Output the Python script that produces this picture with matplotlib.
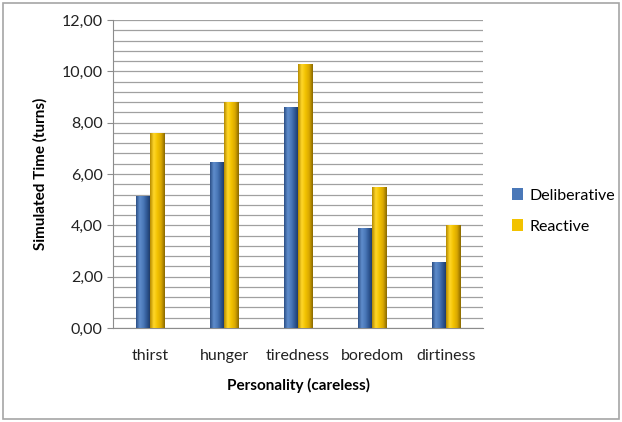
import matplotlib
matplotlib.use("Agg")
import matplotlib.pyplot as plt
import numpy as np
from matplotlib.colors import LinearSegmentedColormap
from matplotlib.patches import Rectangle
from matplotlib.ticker import MultipleLocator, FuncFormatter

plt.rcParams['font.family'] = ['Lato', 'DejaVu Sans']

# Simulated time per need
categories = ["thirst", "hunger", "tiredness", "boredom", "dirtiness"]
deliberative = [5.15, 6.48, 8.60, 3.88, 2.56]
reactive = [7.61, 8.79, 10.27, 5.50, 4.01]

blue_cmap = LinearSegmentedColormap.from_list(
    "blue_cyl", ["#2c4f86", "#5f8dcc", "#4a78b8", "#2d5591", "#1c355e"])
gold_cmap = LinearSegmentedColormap.from_list(
    "gold_cyl", ["#b58a00", "#ffd72a", "#f2c200", "#d9a800", "#8a6a00"])

fig = plt.figure(figsize=(6.22, 4.22), dpi=100)
fig.patches.append(Rectangle((0.005, 0.008), 0.99, 0.985, transform=fig.transFigure,
                             fill=False, edgecolor="#a6a6a6", linewidth=1.2))
ax = fig.add_axes([0.1817, 0.2227, 0.5949, 0.7299])

x = np.arange(len(categories))
w = 0.19
grad = np.linspace(0, 1, 64).reshape(1, -1)


def gradient_bars(xpos, vals, cmap, color, label):
    bars = ax.bar(xpos, vals, width=w, color=color, label=label, zorder=3,
                  edgecolor="none")
    for b in bars:
        x0, y0 = b.get_x(), b.get_y()
        im = ax.imshow(grad, cmap=cmap, aspect="auto", zorder=4,
                       extent=(x0, x0 + b.get_width(), y0, y0 + b.get_height()))
        im.set_clip_path(b)
    return bars


gradient_bars(x - w / 2, deliberative, blue_cmap, "#4a78b8", "Deliberative")
gradient_bars(x + w / 2, reactive, gold_cmap, "#f2c200", "Reactive")

ax.set_xlim(-0.5, len(categories) - 0.5)
ax.set_ylim(0, 12)
ax.yaxis.set_major_locator(MultipleLocator(2))
ax.yaxis.set_minor_locator(MultipleLocator(0.4))
ax.yaxis.set_major_formatter(FuncFormatter(lambda v, p: f"{v:.2f}".replace(".", ",")))
ax.grid(axis="y", which="both", color="#a0a0a0", linewidth=0.9, zorder=0)
ax.set_axisbelow(True)

ax.set_xticks(x)
ax.set_xticklabels(categories)
ax.tick_params(axis="x", length=0, pad=15, labelsize=11.5, colors="#222222")
ax.tick_params(axis="y", which="major", length=4, color="#8c8c8c", labelsize=11.5,
               labelcolor="#222222", direction="out")
ax.tick_params(axis="y", which="minor", length=0)

for s in ["top", "right"]:
    ax.spines[s].set_visible(False)
ax.spines["left"].set_color("#8c8c8c")
ax.spines["bottom"].set_color("#8c8c8c")

ax.set_ylabel("Simulated Time (turns)", fontweight="bold", fontsize=11, labelpad=10)
ax.set_xlabel("Personality (careless)", fontweight="bold", fontsize=11, labelpad=11)

ax.legend(loc="center left", bbox_to_anchor=(1.04, 0.38), frameon=False,
          fontsize=11.5, handlelength=0.7, handleheight=0.7, labelspacing=1.05,
          handletextpad=0.4)

fig.savefig("out.png", dpi=100)
